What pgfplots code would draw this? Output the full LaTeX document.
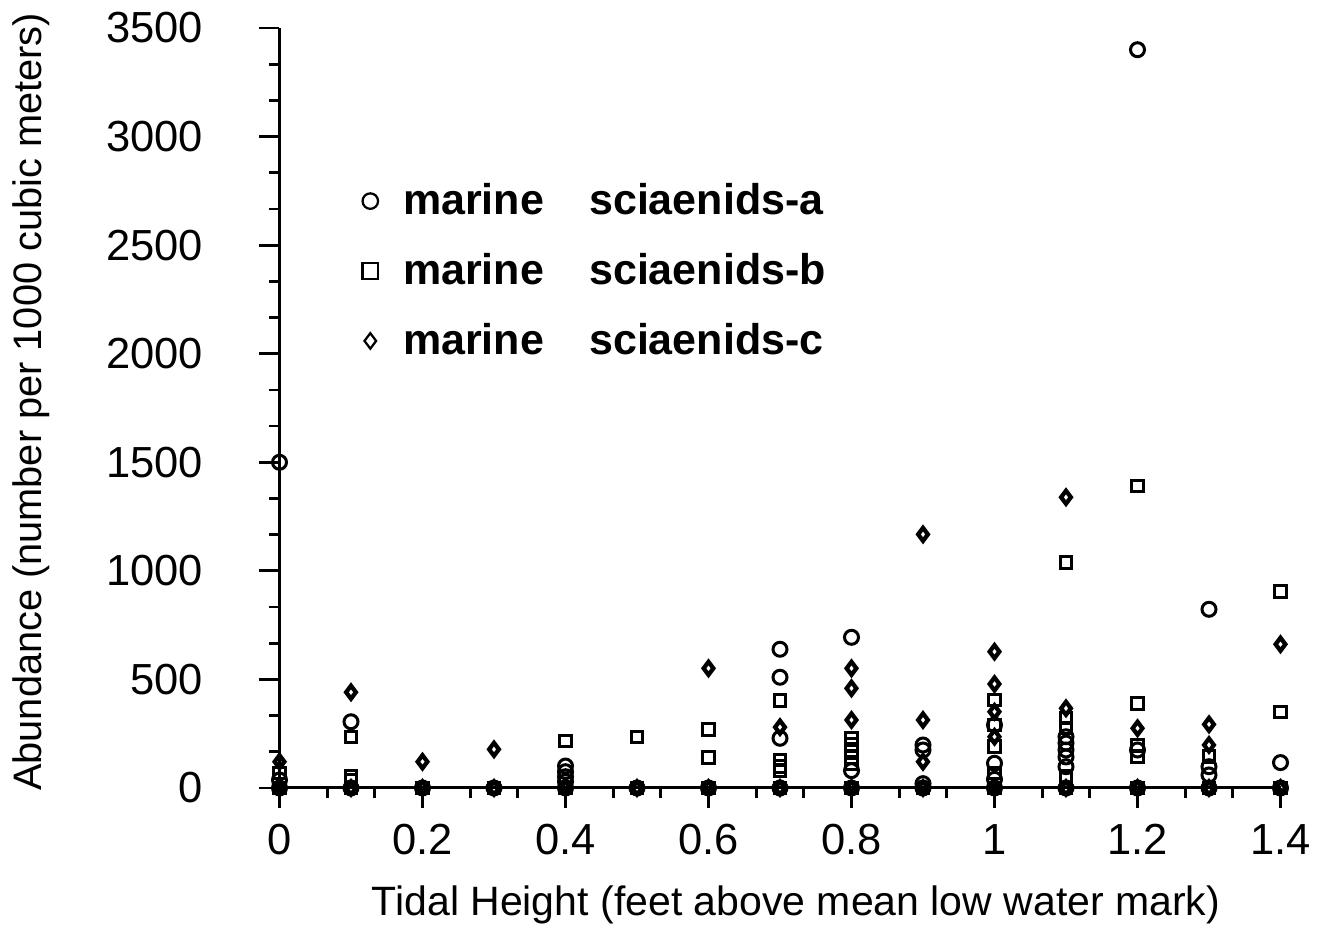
\documentclass[border=0pt]{standalone}
\usepackage{pgfplots}
\pgfplotsset{compat=1.18}
\usepackage{fontspec}
\setmainfont{Liberation Sans}

\begin{document}
\begin{tikzpicture}
\begin{axis}[
    scale only axis,
    width=400.4pt, height=304pt,
    xmin=0, xmax=1.4,
    ymin=0, ymax=3500,
    axis lines*=left,
    axis line style={line width=1.2pt},
    clip=false,
    xtick={0,0.2,...,1.4},
    xticklabels={0,0.2,0.4,0.6,0.8,1,1.2,1.4},
    ytick={0,500,...,3500},
    minor tick num=2,
    tick align=outside,
    major tick length=8pt,
    minor tick length=4pt,
    every tick/.style={black, line width=1.1pt},
    /pgf/number format/assume math mode=true,
    tick label style={font=\fontsize{17.4}{20}\selectfont},
    yticklabel style={/pgf/number format/1000 sep={}, xshift=-19pt},
    xticklabel style={yshift=-3pt},
    xlabel={Tidal Height (feet above mean low water mark)},
    ylabel={Abundance (number per 1000 cubic meters)},
    xlabel style={font=\fontsize{16.4}{19}\selectfont, at={(axis description cs:0.516,-0.154)}, anchor=center},
    ylabel style={font=\fontsize{15.9}{19}\selectfont, at={(axis description cs:-0.248,0.508)}, anchor=center},
    legend style={draw=none, fill=none, at={(0.075,0.809)}, anchor=north west,
        font=\fontsize{17.2}{20}\selectfont\bfseries, row sep=10pt,
        legend cell align=left},
    legend image code/.code={\draw[#1, mark size=3.1pt, line width=0.9pt] plot coordinates {(0.3cm,0cm)};},
]
\addplot[only marks, mark=o, mark size=2.8pt, line width=1.2pt, black] coordinates {
(0,1500) (0,37) (0,0)
(0.1,305) (0.1,0)
(0.2,0) (0.3,0)
(0.4,101) (0.4,75) (0.4,52) (0.4,29) (0.4,0)
(0.5,0) (0.6,0)
(0.7,639) (0.7,510) (0.7,229) (0.7,0)
(0.8,694) (0.8,80) (0.8,0)
(0.9,198) (0.9,175) (0.9,20) (0.9,0)
(1.0,290) (1.0,114) (1.0,40) (1.0,0)
(1.1,236) (1.1,207) (1.1,175) (1.1,143) (1.1,98) (1.1,0)
(1.2,3400) (1.2,175) (1.2,0)
(1.3,823) (1.3,98) (1.3,60) (1.3,0)
(1.4,117) (1.4,0)
};
\addlegendentry{\hspace{8pt}marine\hspace{1.05em}sciaenids-a}
\addplot[only marks, mark=square, mark size=2.3pt, line width=1.2pt, black] coordinates {
(0,69) (0,0)
(0.1,236) (0.1,52) (0.1,37) (0.1,0)
(0.2,0) (0.3,0)
(0.4,216) (0.4,0)
(0.5,236) (0.5,0)
(0.6,270) (0.6,141) (0.6,0)
(0.7,402) (0.7,130) (0.7,100) (0.7,80) (0.7,0)
(0.8,230) (0.8,200) (0.8,170) (0.8,140) (0.8,110) (0.8,0)
(0.9,0)
(1.0,405) (1.0,290) (1.0,190) (1.0,70) (1.0,0)
(1.1,1038) (1.1,322) (1.1,276) (1.1,52) (1.1,0)
(1.2,1390) (1.2,390) (1.2,198) (1.2,143) (1.2,0)
(1.3,144) (1.3,0)
(1.4,904) (1.4,349) (1.4,0)
};
\addlegendentry{\hspace{8pt}marine\hspace{1.05em}sciaenids-b}
\addplot[only marks, mark=diamond, mark size=2.6pt, line width=1.7pt, black] coordinates {
(0,121) (0,0)
(0.1,441) (0.1,0)
(0.2,121) (0.2,0)
(0.3,178) (0.3,0)
(0.4,0) (0.5,0)
(0.6,551) (0.6,0)
(0.7,280) (0.7,0)
(0.8,551) (0.8,459) (0.8,313) (0.8,0)
(0.9,1168) (0.9,313) (0.9,121) (0.9,0)
(1.0,628) (1.0,479) (1.0,351) (1.0,236) (1.0,0)
(1.1,1339) (1.1,367) (1.1,0)
(1.2,275) (1.2,0)
(1.3,293) (1.3,198) (1.3,0)
(1.4,662) (1.4,0)
};
\addlegendentry{\hspace{8pt}marine\hspace{1.05em}sciaenids-c}
\end{axis}
\pgfresetboundingbox
\path (-111.8pt,-56.4pt) rectangle (417.8pt,315.2pt);
\end{tikzpicture}
\end{document}
